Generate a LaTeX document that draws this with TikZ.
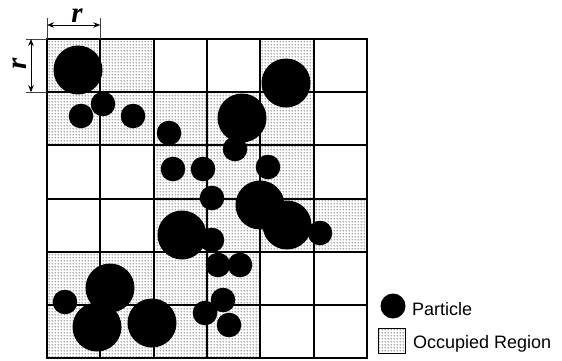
\documentclass[tikz,border=0pt]{standalone}
\usepackage{fontspec}
\newfontfamily\legendfont{Liberation Sans}
\newfontfamily\dimfont{Liberation Serif}
\usetikzlibrary{patterns,arrows.meta}
\pgfdeclarepatternformonly{stipple}{\pgfpointorigin}{\pgfpoint{3pt}{3pt}}{\pgfpoint{3pt}{3pt}}{%
  \pgfpathcircle{\pgfpoint{1.5pt}{1.5pt}}{0.7pt}\pgfusepath{fill}}
\begin{document}
\begin{tikzpicture}[x=1pt,y=-1pt,
  occupied/.style={pattern=stipple, pattern color=black!90},
  gridline/.style={line width=2pt, line cap=rect},
  particle/.style={fill=black},
  dimline/.style={line width=0.9pt, {Stealth[length=7pt,width=5.5pt]}-{Stealth[length=7pt,width=5.5pt]}},
  extline/.style={line width=0.7pt, black!75},
  dimlabel/.style={font=\dimfont\bfseries\itshape\fontsize{29}{29}\selectfont, inner sep=0pt},
  legendtext/.style={font=\legendfont\fontsize{18}{18}\selectfont, anchor=base west, inner sep=0pt}]
\useasboundingbox (0,0) rectangle (562,361);
\def\cw{53.333}
\def\ch{53.167}
% occupied cells
\foreach \c/\r in {0/0,1/0,4/0, 0/1,1/1,2/1,3/1,4/1, 2/2,3/2,4/2, 2/3,3/3,4/3,5/3, 0/4,1/4,2/4,3/4, 0/5,1/5,2/5,3/5}
  \fill[occupied] ({47+\c*\cw},{39+\r*\ch}) rectangle ++(\cw,\ch);
% grid
\foreach \i in {0,...,6} {
  \draw[gridline] ({47+\i*\cw},39) -- ({47+\i*\cw},358);
  \draw[gridline] (47,{39+\i*\ch}) -- (367,{39+\i*\ch});
}
% large particles
\foreach \x/\y in {78/70, 286/83, 242/118, 260/205, 287/225, 182/235, 110/288, 97/327, 152/323}
  \fill[particle] (\x,\y) circle[radius=24.5pt];
% small particles
\foreach \x/\y in {103/104, 81/116, 133/116, 169/133, 235/149, 173/169, 203/169, 268/167, 212/198, 320/233, 212/240, 218/265, 240/265, 65/302, 223/300, 205/313, 229/325}
  \fill[particle] (\x,\y) circle[radius=12.3pt];
% dimension r (horizontal)
\coordinate (hA) at (47,25);
\coordinate (hB) at (100.3,25);
\draw[extline] (47,18) -- (47,39);
\draw[extline] (100.3,18) -- (100.3,39);
\draw[dimline] (hA) -- (hB);
\node[dimlabel] (rtop) at (77,16) {r};
% dimension r (vertical)
\coordinate (vA) at (31,39);
\coordinate (vB) at (31,92.2);
\draw[extline] (26,39) -- (47,39);
\draw[extline] (26,92.2) -- (47,92.2);
\draw[dimline] (vA) -- (vB);
\node[dimlabel, rotate=90] (rleft) at (20,64) {r};
% legend
\node[particle, circle, minimum size=25pt, inner sep=0pt] (legpart) at (393,306) {};
\node[legendtext] (legparttext) at (412,315) {Particle};
\node[draw, line width=0.8pt, occupied, minimum width=27pt, minimum height=25pt, inner sep=0pt] (legocc) at (391.5,340.5) {};
\node[legendtext] (legocctext) at (413,348) {Occupied Region};
\end{tikzpicture}
\end{document}
